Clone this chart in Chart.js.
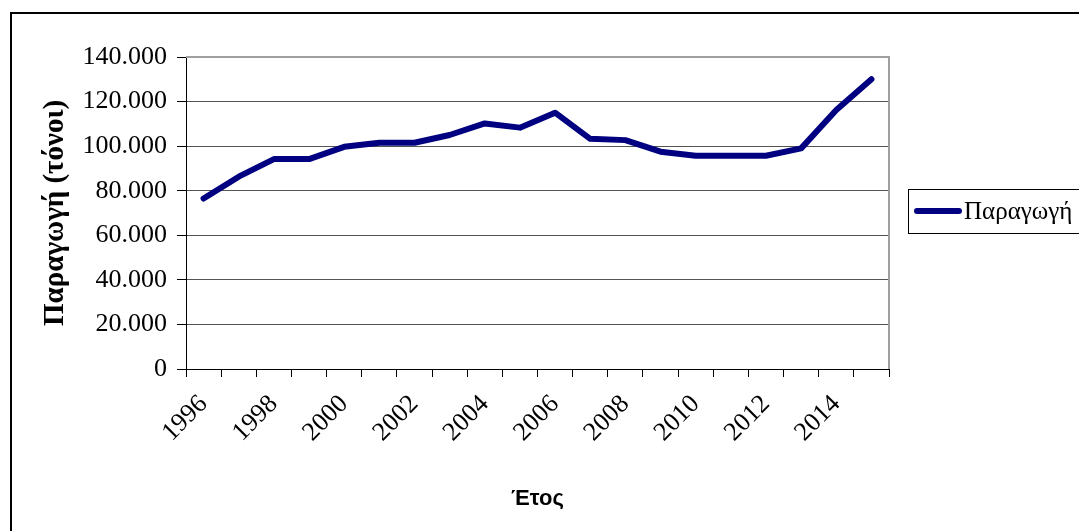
<!DOCTYPE html>
<html>
<head>
<meta charset="utf-8">
<script src="https://cdn.jsdelivr.net/npm/chart.js@4"></script>
<style>
  html, body { margin: 0; padding: 0; background: #fff; }
  canvas { display: block; }
</style>
</head>
<body>
<canvas id="chart" width="1079" height="531"></canvas>
<script>
const years = ['1996', '1997', '1998', '1999', '2000', '2001', '2002', '2003', '2004', '2005',
               '2006', '2007', '2008', '2009', '2010', '2011', '2012', '2013', '2014', '2015'];
const production = [76500, 86300, 94200, 94200, 99700, 101500, 101500, 105000, 110200, 108300,
                    115000, 103300, 102700, 97500, 95700, 95700, 95700, 99000, 116200, 130000];
const seriesLabel = 'Παραγωγή';
const yTitle = 'Παραγωγή (τόνοι)';
const xTitle = 'Έτος';

const serif = "'Liberation Serif', 'Times New Roman', serif";
const sans = "'Liberation Sans', Arial, sans-serif";

function fmt(v) {
    return String(v).replace(/\B(?=(\d{3})+(?!\d))/g, '.');
}

// outer frame, plot border and legend box
const framePlugin = {
    id: 'frame',
    beforeDraw(chart) {
        const ctx = chart.ctx;
        ctx.save();
        ctx.fillStyle = '#fff';
        ctx.fillRect(0, 0, chart.width, chart.height);
        ctx.strokeStyle = '#000';
        ctx.lineWidth = 2;
        ctx.strokeRect(11, 13, 1200, 700);
        ctx.restore();
    },
    beforeDatasetsDraw(chart) {
        const ctx = chart.ctx;
        const a = chart.chartArea;
        ctx.save();
        ctx.strokeStyle = '#a0a0a0';
        ctx.lineWidth = 2;
        ctx.beginPath();
        ctx.moveTo(a.left, a.top);
        ctx.lineTo(a.right, a.top);
        ctx.lineTo(a.right, a.bottom);
        ctx.stroke();
        ctx.restore();
    },
    afterDraw(chart) {
        const ctx = chart.ctx;
        const ds = chart.data.datasets[0];
        ctx.save();
        ctx.strokeStyle = '#000';
        ctx.lineWidth = 1;
        ctx.strokeRect(908.5, 189.5, 200, 44);
        ctx.strokeStyle = ds.borderColor;
        ctx.lineWidth = 6;
        ctx.lineCap = 'round';
        ctx.beginPath();
        ctx.moveTo(917, 211);
        ctx.lineTo(959, 211);
        ctx.stroke();
        ctx.fillStyle = '#000';
        ctx.font = '25px ' + serif;
        ctx.textBaseline = 'middle';
        ctx.fillText(ds.label, 964, 212);
        ctx.restore();
    }
};

new Chart(document.getElementById('chart'), {
    type: 'line',
    data: {
        labels: years,
        datasets: [{
            label: seriesLabel,
            data: production,
            borderColor: '#000080',
            borderWidth: 6,
            borderJoinStyle: 'round',
            borderCapStyle: 'round',
            pointRadius: 0,
            tension: 0,
            fill: false
        }]
    },
    options: {
        responsive: false,
        animation: false,
        layout: { padding: { left: 0, top: 57, right: 190, bottom: 0 } },
        plugins: {
            legend: { display: false },
            tooltip: { enabled: false }
        },
        scales: {
            x: {
                offset: true,
                afterFit(scale) { scale.height = 162; },
                grid: {
                    offset: true,
                    drawOnChartArea: false,
                    color: '#000',
                    tickColor: '#000',
                    tickLength: 8
                },
                border: { color: '#000', width: 1 },
                ticks: {
                    autoSkip: false,
                    minRotation: 45,
                    maxRotation: 45,
                    padding: 12,
                    color: '#000',
                    font: { family: serif, size: 26 },
                    callback: (v, i) => i % 2 === 0 ? years[i] : ''
                },
                title: {
                    display: true,
                    text: xTitle,
                    color: '#000',
                    font: { family: sans, size: 22, weight: 'bold' },
                    padding: { top: 0, bottom: 19 }
                }
            },
            y: {
                min: 0,
                max: 140000,
                afterFit(scale) { scale.width = 186; },
                grid: {
                    color: c => c.tick.value === 140000 ? 'rgba(0,0,0,0)' : (c.tick.value === 0 ? '#000' : '#555'),
                    tickColor: '#000',
                    tickLength: 9
                },
                border: { color: '#000', width: 1 },
                ticks: {
                    stepSize: 20000,
                    padding: 10,
                    color: '#000',
                    font: { family: serif, size: 26 },
                    callback: v => fmt(v)
                },
                title: {
                    display: true,
                    text: yTitle,
                    color: '#000',
                    font: { family: serif, size: 29, weight: 'bold' },
                    padding: { top: 38, bottom: 0 }
                }
            }
        }
    },
    plugins: [framePlugin]
});
</script>
</body>
</html>
